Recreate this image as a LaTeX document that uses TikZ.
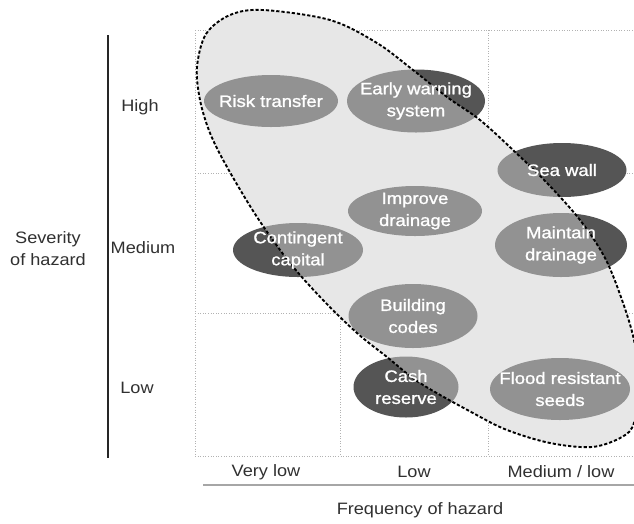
\documentclass[tikz,border=0pt]{standalone}
\usepackage{fontspec}
\setmainfont{Liberation Sans}
\newfontfamily\blobfont[FakeStretch=1.12,FakeBold=1.2]{Liberation Sans}
\newfontfamily\labfont[FakeStretch=1.1]{Liberation Sans}
\pgfdeclarelayer{bg}
\pgfdeclarelayer{mid}
\pgfsetlayers{bg,mid,main}
\definecolor{blobdark}{HTML}{555555}
\definecolor{veil}{gray}{0.86}
\definecolor{labelgray}{HTML}{303030}
\tikzset{
  blob/.style={text=white, align=center, inner sep=0pt,
    font=\blobfont\fontsize{16.5}{22}\selectfont},
  axlabel/.style={text=labelgray, align=center, font=\labfont\fontsize{16.5}{22}\selectfont},
  gridline/.style={draw=gray!60, dotted, line width=0.6pt},
  region/.style={insert path={plot[smooth cycle, tension=0.55] coordinates {
    (197,67) (206,34) (230,15) (263,10) (330,20) (377,43) (413,70) (447,97)
    (480,120) (513,150) (547,183) (580,220) (605,258) (622,300) (634,340)
    (640,385) (634,423) (622,437) (592,447) (550,443) (507,430) (473,413)
    (420,383) (387,357) (357,333) (323,300) (290,263) (257,217) (227,167)
    (210,133) (200,100)}}},
}
\begin{document}
\begin{tikzpicture}[x=1pt,y=-1pt]
\useasboundingbox (0,0) rectangle (634,523);
\clip (0,0) rectangle (634,523);
% grid
\begin{pgfonlayer}{bg}
\foreach \gx in {195,340,488}{\draw[gridline] (\gx,30) -- (\gx,456);}
\foreach \gy in {30,173,313,456}{\draw[gridline] (195,\gy) -- (634,\gy);}
\fill[veil, region];
\end{pgfonlayer}
% vertical axis
\coordinate (vtop) at (108,35);
\coordinate (vbot) at (108,458);
\draw[line width=1.2pt, black!85] (vtop) -- (vbot);
% horizontal axis line
\coordinate (hl) at (203,485);
\coordinate (hr) at (634,485);
\draw[line width=1.2pt, gray!70] (hl) -- (hr);
% labels
\node[axlabel] (sev) at (48,249) {Severity\\of hazard};
\node[axlabel] (high) at (140,107) {High};
\node[axlabel] (med) at (143,248) {Medium};
\node[axlabel] (lowr) at (137,388) {Low};
\node[axlabel] (vlow) at (266,472) {Very low};
\node[axlabel] (lowc) at (414,472) {Low};
\node[axlabel] (mlow) at (561,472) {Medium / low};
\node[axlabel] (freq) at (420,510) {Frequency of hazard};
% blobs
\foreach \n/\x/\y/\w/\h/\t in {
  rt/271/101/134/52/{Risk transfer},
  ew/416/101/138/63/{Early warning\\system},
  sw/562/170/129/54/{Sea wall},
  id/415/211/134/50/{Improve\\drainage},
  cc/298/250/130/54/{Contingent\\capital},
  md/561/245/132/64/{Maintain\\drainage},
  bc/413/316/129/64/{Building\\codes},
  cr/406/387/105/61/{Cash\\reserve},
  fr/560/389/140/62/{Flood resistant\\seeds}}{
  \node[blob] (\n) at (\x,\y) {\t};
  \begin{pgfonlayer}{bg}
    \fill[blobdark] (\n.center) ellipse [x radius=0.5*\w pt, y radius=0.5*\h pt];
  \end{pgfonlayer}
}
% big dashed region
\begin{pgfonlayer}{mid}
\path[fill=white, fill opacity=0.36, region];
\draw[black, line width=1.9pt, dash pattern=on 3.2pt off 2pt, region];
\end{pgfonlayer}
\end{tikzpicture}
\end{document}
